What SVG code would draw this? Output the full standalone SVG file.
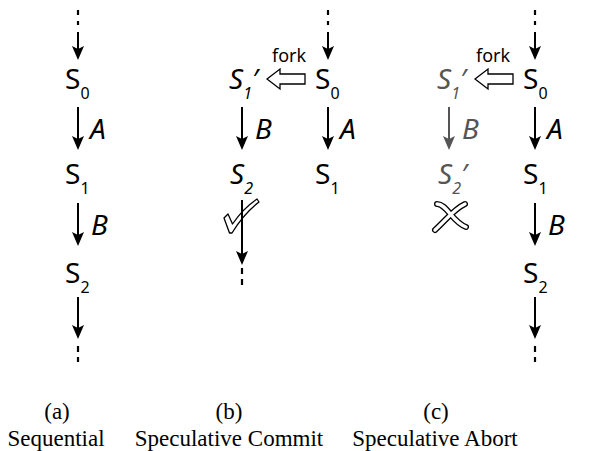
<svg xmlns="http://www.w3.org/2000/svg" width="595" height="451" viewBox="0 0 595 451">
<defs>
<marker id="ahb" viewBox="-2 -7 16 14" markerWidth="16" markerHeight="14" refX="10" refY="0" orient="auto" markerUnits="userSpaceOnUse">
<path d="M-1,-6 L13,0 L-1,6 L2,0 Z" fill="#000"/>
</marker>
<marker id="ahg" viewBox="-2 -7 16 14" markerWidth="16" markerHeight="14" refX="10" refY="0" orient="auto" markerUnits="userSpaceOnUse">
<path d="M-1,-6 L13,0 L-1,6 L2,0 Z" fill="#555"/>
</marker>
</defs>
<style>
text{font-family:"Noto Sans","Open Sans","DejaVu Sans",sans-serif;fill:#000}
.s{font-size:28px}
.it{font-style:italic}
.sub{font-size:16px}
.lbl{font-size:28px;font-style:italic}
.fork{font-size:18px}
.gray{fill:#555}
.cap{font-family:"Liberation Serif","Times New Roman",serif;font-size:23px;text-anchor:middle}
.ar{stroke:#000;stroke-width:2;fill:none;marker-end:url(#ahb)}
.arg{stroke:#555;stroke-width:2;fill:none;marker-end:url(#ahg)}
.dots{stroke:#000;stroke-width:2.2;fill:none}
.fk{fill:#fff;stroke:#000;stroke-width:1.3;stroke-linejoin:miter}
</style>

<g id="connectors">
<!-- column a -->
<line class="dots" x1="78" y1="10" x2="78" y2="25" stroke-dasharray="5 6"/>
<line class="ar" x1="78" y1="32" x2="78" y2="57"/>
<line class="ar" x1="78" y1="107" x2="78" y2="147"/>
<line class="ar" x1="78" y1="203" x2="78" y2="243"/>
<line class="ar" x1="78" y1="297" x2="78" y2="336"/>
<line class="dots" x1="78" y1="346" x2="78" y2="362" stroke-dasharray="6 5"/>
<!-- column b right -->
<line class="dots" x1="328" y1="10" x2="328" y2="25" stroke-dasharray="5 6"/>
<line class="ar" x1="328" y1="32" x2="328" y2="57"/>
<line class="ar" x1="328" y1="107" x2="328" y2="147"/>
<!-- column b left -->
<line class="ar" x1="242" y1="107" x2="242" y2="147"/>
<path id="check" d="M224,218 L228,214 L232.5,224 C240,213 248,205 257,199 L259,202 C250,209 240,220 232,233 L229.5,233 Z" fill="#fff" stroke="#000" stroke-width="1.3" stroke-linejoin="round"/>
<line class="ar" x1="242" y1="200" x2="242" y2="262"/>
<line class="dots" x1="242" y1="268" x2="242" y2="285" stroke-dasharray="6 5"/>
<!-- column c right -->
<line class="dots" x1="535" y1="10" x2="535" y2="25" stroke-dasharray="5 6"/>
<line class="ar" x1="535" y1="32" x2="535" y2="57"/>
<line class="ar" x1="535" y1="107" x2="535" y2="147"/>
<line class="ar" x1="535" y1="203" x2="535" y2="243"/>
<line class="ar" x1="535" y1="297" x2="535" y2="336"/>
<line class="dots" x1="535" y1="346" x2="535" y2="362" stroke-dasharray="6 5"/>
<!-- column c left -->
<line class="arg" x1="449" y1="107" x2="449" y2="147"/>
<!-- abort cross -->
<g id="cross">
<path d="M437,204 C447,204 452,222 466,227" stroke="#000" stroke-width="6" fill="none" stroke-linecap="round"/>
<path d="M465,204 C454,209 446,220 435,230" stroke="#000" stroke-width="6" fill="none" stroke-linecap="round"/>
<path d="M437,204 C447,204 452,222 466,227" stroke="#fff" stroke-width="3.4" fill="none" stroke-linecap="round"/>
<path d="M465,204 C454,209 446,220 435,230" stroke="#fff" stroke-width="3.4" fill="none" stroke-linecap="round"/>
</g>
<!-- fork arrows -->
<polygon class="fk" points="267,79 280,69 280,74 305,74 305,84 280,84 280,89"/>
<text class="fork" x="272" y="62">fork</text>
<polygon class="fk" points="475,79 488,69 488,74 513,74 513,84 488,84 488,89"/>
<text class="fork" x="476" y="62">fork</text>
<!-- edge labels -->
<text class="lbl" x="90" y="139">A</text>
<text class="lbl" x="91" y="235">B</text>
<text class="lbl" x="340" y="139">A</text>
<text class="lbl" x="255" y="139">B</text>
<text class="lbl" x="547" y="139">A</text>
<text class="lbl" x="548" y="235">B</text>
<text class="lbl gray" x="462" y="139">B</text>
</g>

<!-- column a nodes -->
<g id="a-s0"><text class="s" x="65" y="89">S<tspan class="sub" dy="10">0</tspan></text></g>
<g id="a-s1"><text class="s" x="65" y="184">S<tspan class="sub" dy="10">1</tspan></text></g>
<g id="a-s2"><text class="s" x="65" y="283">S<tspan class="sub" dy="10">2</tspan></text></g>

<!-- column b nodes -->
<g id="b-s0"><text class="s" x="315" y="89">S<tspan class="sub" dy="10">0</tspan></text></g>
<g id="b-s1"><text class="s" x="315" y="184">S<tspan class="sub" dy="10">1</tspan></text></g>
<g id="b-s1p"><text class="s it" x="229" y="89">S<tspan class="sub" dy="10">1</tspan><tspan dy="-10">′</tspan></text></g>
<g id="b-s2"><text class="s it" x="230" y="184">S<tspan class="sub" dy="10">2</tspan></text></g>

<!-- column c nodes -->
<g id="c-s0"><text class="s" x="523" y="89">S<tspan class="sub" dy="10">0</tspan></text></g>
<g id="c-s1"><text class="s" x="523" y="184">S<tspan class="sub" dy="10">1</tspan></text></g>
<g id="c-s2"><text class="s" x="523" y="283">S<tspan class="sub" dy="10">2</tspan></text></g>
<g id="c-s1p"><text class="s it gray" x="437" y="89">S<tspan class="sub" dy="10">1</tspan><tspan dy="-10">′</tspan></text></g>
<g id="c-s2p"><text class="s it gray" x="438" y="184">S<tspan class="sub" dy="10">2</tspan><tspan dy="-10">′</tspan></text></g>

<!-- captions -->
<g id="cap-a"><text class="cap" x="57" y="419">(a)</text><text class="cap" x="56" y="446">Sequential</text></g>
<g id="cap-b"><text class="cap" x="229" y="419">(b)</text><text class="cap" x="229" y="446">Speculative Commit</text></g>
<g id="cap-c"><text class="cap" x="436" y="419">(c)</text><text class="cap" x="435" y="446">Speculative Abort</text></g>
</svg>
